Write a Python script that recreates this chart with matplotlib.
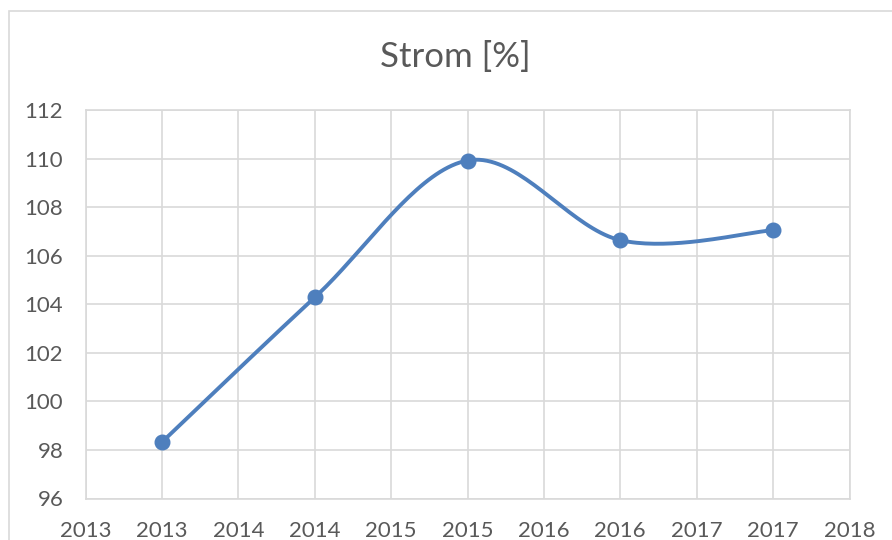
import numpy as np
import matplotlib.pyplot as plt
from matplotlib.patches import Rectangle

# data
years = [2013.5, 2014.5, 2015.5, 2016.5, 2017.5]
strom = [98.32, 104.28, 109.92, 106.64, 107.05]

x_ticks = [2013, 2013.5, 2014, 2014.5, 2015, 2015.5, 2016, 2016.5, 2017, 2017.5, 2018]
x_labels = ['2013', '2013', '2014', '2014', '2015', '2015', '2016', '2016', '2017', '2017', '2018']
y_ticks = [96, 98, 100, 102, 104, 106, 108, 110, 112]

line_color = '#4E7FBD'
grid_color = '#D9D9D9'
text_color = '#595959'

plt.rcParams['font.family'] = ['Lato', 'DejaVu Sans']


def smooth(xs, ys, n=40):
    # Catmull-Rom style smoothing like Excel's "smoothed line"
    xs = np.asarray(xs, float)
    ys = np.asarray(ys, float)
    px = np.concatenate([[xs[0]], xs, [xs[-1]]])
    py = np.concatenate([[ys[0]], ys, [ys[-1]]])
    out_x, out_y = [], []
    for i in range(1, len(px) - 2):
        p0, p1, p2, p3 = [np.array([px[j], py[j]]) for j in (i - 1, i, i + 1, i + 2)]
        c1 = p1 + (p2 - p0) / 6
        c2 = p2 - (p3 - p1) / 6
        t = np.linspace(0, 1, n)[:, None]
        b = (1 - t) ** 3 * p1 + 3 * (1 - t) ** 2 * t * c1 + 3 * (1 - t) * t ** 2 * c2 + t ** 3 * p2
        out_x.extend(b[:, 0])
        out_y.extend(b[:, 1])
    return np.array(out_x), np.array(out_y)


W, H = 892, 540
fig = plt.figure(figsize=(W / 100, H / 100), dpi=100)
ax = fig.add_axes([85.5 / W, 1 - 498.5 / H, (849.5 - 85.5) / W, (498.5 - 110) / H])

# chart area border
fig.patches.append(Rectangle((9 / W, -0.1), 2, 1 - 11 / H + 0.1, transform=fig.transFigure,
                             fill=False, edgecolor=grid_color, linewidth=1.2))

sx, sy = smooth(years, strom)
ax.plot(sx, sy, color=line_color, linewidth=2.8, solid_capstyle='round', zorder=3)
ax.plot(years, strom, 'o', color=line_color, markersize=10.5, zorder=4)

ax.set_xlim(2013, 2018)
ax.set_ylim(96, 112)
ax.set_xticks(x_ticks)
ax.set_xticklabels(x_labels)
ax.set_yticks(y_ticks)
ax.grid(True, color=grid_color, linewidth=1.2)
ax.set_axisbelow(True)
for s in ax.spines.values():
    s.set_color(grid_color)
    s.set_linewidth(1.2)
ax.tick_params(length=0, labelsize=16, colors=text_color)
ax.tick_params(axis='x', pad=16)
ax.tick_params(axis='y', pad=16)

fig.text(455 / W, 1 - 57 / H, 'Strom [%]', ha='center', va='center', fontsize=25, color=text_color)

fig.savefig('out.png', dpi=100)
